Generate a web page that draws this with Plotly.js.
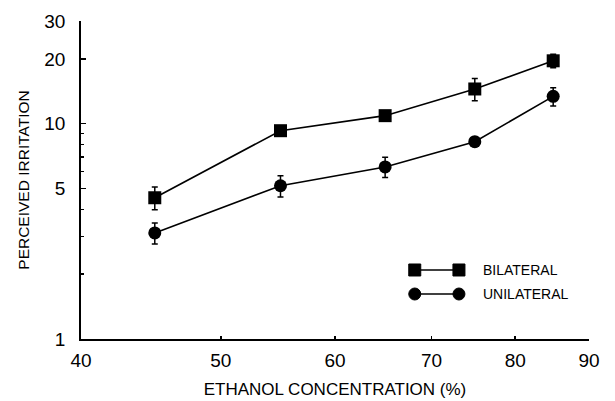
<!DOCTYPE html>
<html>
<head>
<meta charset="utf-8">
<script src="https://cdn.plot.ly/plotly-3.0.1.min.js"></script>
<style>html,body{margin:0;padding:0;background:#fff;}#chart{width:615px;height:401px;}</style>
</head>
<body>
<div id="chart"></div>
<script>
// Data
const concentration = [45, 55, 65, 75, 85];
const bilateral = [4.53, 9.28, 10.9, 14.5, 19.6];
const bilateralErr = [0.55, 0.4, 0.5, 1.7, 1.4];
const unilateral = [3.11, 5.15, 6.3, 8.25, 13.4];
const unilateralErr = [0.35, 0.58, 0.68, 0.4, 1.3];
const xTicks = [40, 50, 60, 70, 80, 90];
const yTicks = [1, 5, 10, 20, 30];
const yMinorTicks = [2, 3, 4, 6, 7, 8, 9];
const seriesNames = ['BILATERAL', 'UNILATERAL'];

const FONT = 'Liberation Sans, Arial, Helvetica, sans-serif';

function trace(y, err, symbol, name) {
  return {
    x: concentration, y: y, name: name, type: 'scatter', mode: 'lines+markers',
    line: {color: '#000', width: 1.6},
    marker: {symbol: symbol, size: 13, color: '#000'},
    error_y: {type: 'data', array: err, visible: true, color: '#000', thickness: 1.5, width: 3},
    showlegend: false, cliponaxis: false
  };
}

const data = [
  trace(bilateral, bilateralErr, 'square', seriesNames[0]),
  trace(unilateral, unilateralErr, 'circle', seriesNames[1])
];

// legend glyphs (paper coords)
const L = {x1: 0.657, x2: 0.744, yB: 0.217, yU: 0.1415, tx: 0.787};
const shapes = [];
function glyph(y, type) {
  shapes.push({type: 'line', xref: 'paper', yref: 'paper', x0: L.x1, x1: L.x2, y0: y, y1: y, line: {color: '#000', width: 1.6}});
  [L.x1, L.x2].forEach(function (xc) {
    shapes.push({type: type, xref: 'paper', yref: 'paper', xsizemode: 'pixel', ysizemode: 'pixel',
      xanchor: xc, yanchor: y, x0: -6, x1: 6, y0: -6, y1: 6,
      fillcolor: '#000', line: {color: '#000', width: 1}});
  });
}
glyph(L.yB, 'rect');
glyph(L.yU, 'circle');

const annotations = [
  {xref: 'paper', yref: 'paper', x: L.tx, y: L.yB, text: seriesNames[0], showarrow: false, xanchor: 'left', yanchor: 'middle', font: {family: FONT, size: 14, color: '#000'}},
  {xref: 'paper', yref: 'paper', x: L.tx, y: L.yU, text: seriesNames[1], showarrow: false, xanchor: 'left', yanchor: 'middle', font: {family: FONT, size: 14, color: '#000'}}
];

const layout = {
  width: 615, height: 401,
  margin: {l: 81, r: 26, t: 21, b: 62},
  paper_bgcolor: '#fff', plot_bgcolor: '#fff',
  font: {family: FONT, color: '#000'},
  showlegend: false,
  xaxis: {
    type: 'log', range: [Math.log10(40), Math.log10(90)],
    tickvals: xTicks, ticktext: xTicks.map(String),
    ticks: 'inside', ticklen: 3, tickwidth: 1.5, tickcolor: '#000',
    showline: true, linecolor: '#000', linewidth: 1.8, mirror: false,
    showgrid: false, zeroline: false,
    tickfont: {family: FONT, size: 19, color: '#000'},
    ticklabelstandoff: 3,
    title: {text: 'ETHANOL CONCENTRATION (%)', font: {family: FONT, size: 17, color: '#000'}, standoff: 13}
  },
  yaxis: {
    type: 'log', range: [0, Math.log10(30)],
    tickvals: yTicks, ticktext: yTicks.map(String),
    ticks: 'inside', ticklen: 5, tickwidth: 1.5, tickcolor: '#000',
    minor: {tickvals: yMinorTicks, ticks: 'inside', ticklen: 3, tickwidth: 1.5, tickcolor: '#000', showgrid: false},
    showline: true, linecolor: '#000', linewidth: 1.8, mirror: false,
    showgrid: false, zeroline: false,
    tickfont: {family: FONT, size: 19, color: '#000'},
    ticklabelstandoff: 10,
    title: {text: 'PERCEIVED IRRITATION', font: {family: FONT, size: 15.5, color: '#000'}, standoff: 11}
  },
  shapes: shapes,
  annotations: annotations
};

Plotly.newPlot('chart', data, layout, {displayModeBar: false, staticPlot: true});
</script>
</body>
</html>
